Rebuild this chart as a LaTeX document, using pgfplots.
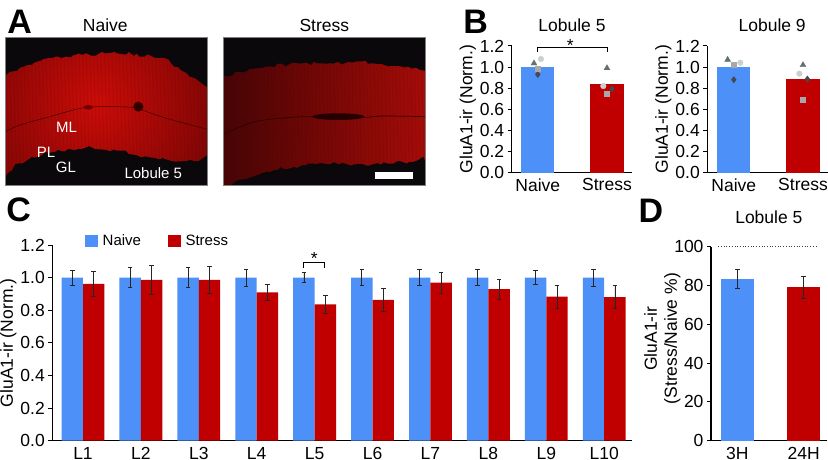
\documentclass[border=0pt]{standalone}
\usepackage{fontspec}
\setmainfont{Liberation Sans}
\usepackage{pgfplots}
\usepackage{pgfplotstable}
\pgfplotsset{compat=1.18}
\usetikzlibrary{decorations.pathmorphing}

\definecolor{nblue}{RGB}{77,144,248}
\definecolor{sred}{RGB}{192,0,0}
\definecolor{ptri}{RGB}{100,112,112}
\definecolor{pcirc}{RGB}{200,208,208}
\definecolor{psq}{RGB}{168,168,168}
\definecolor{pdia}{RGB}{68,72,80}
\definecolor{nearblack}{RGB}{10,8,10}
\definecolor{edgered}{RGB}{80,5,5}

\newcommand{\lab}{\fontsize{17.5}{20}\selectfont}
\newcommand{\smalllab}{\fontsize{15}{18}\selectfont}
\newcommand{\panel}{\fontsize{34}{36}\selectfont\bfseries}

% lobule, bar positions, naive, naive err, stress, stress err
\pgfplotstableread{
xn xs n ne s se
0.815 1.185 1.0 0.047 0.961 0.077
1.815 2.185 1.0 0.060 0.986 0.087
2.815 3.185 1.0 0.060 0.986 0.085
3.815 4.185 1.0 0.053 0.910 0.051
4.815 5.185 1.0 0.032 0.836 0.056
5.815 6.185 1.0 0.050 0.863 0.068
6.815 7.185 1.0 0.048 0.969 0.065
7.815 8.185 1.0 0.048 0.930 0.062
8.815 9.185 1.0 0.044 0.883 0.070
9.815 10.185 1.0 0.053 0.881 0.072
}\lobules

\pgfplotsset{
  panelaxis/.style={
    scale only axis,
    anchor=south west,
    axis lines=left,
    axis line style={-,line width=1.1pt,black},
    clip=false,
    xtick style={draw=none},
    ytick style={black,line width=0.9pt},
    tick align=outside,
    major tick length=4pt,
    tick label style={font=\lab},
    label style={font=\lab},
    title style={font=\lab},
    ymin=0,
    /pgf/number format/assume math mode=true,
  },
  normticks/.style={
    ymax=1.2,
    ytick={0,0.2,0.4,0.6,0.8,1.0,1.2},
    yticklabel style={/pgf/number format/.cd,fixed,fixed zerofill,precision=1},
  },
  nbar/.style={ybar,bar width=#1,bar shift=0pt,fill=nblue,draw=none},
  sbar/.style={ybar,bar width=#1,bar shift=0pt,fill=sred,draw=none},
  errs/.style={
    error bars/.cd,y dir=both,y explicit,
    error bar style={line width=0.8pt,black!85},
    error mark options={rotate=90,mark size=2.3pt,line width=0.8pt,black!85},
  },
  ptt/.style={only marks,mark=triangle*,mark size=3.4pt,color=ptri},
  ptc/.style={only marks,mark=*,mark size=2.8pt,color=pcirc},
  pts/.style={only marks,mark=square*,mark size=2.5pt,color=psq},
  ptd/.style={only marks,mark=diamond*,mark size=3.2pt,color=pdia},
  legsq/.style={legend image code/.code={\fill[##1] (0pt,-5.5pt) rectangle (12.5pt,6.5pt);}},
}

\begin{document}
\begin{tikzpicture}
\useasboundingbox (0pt,0pt) rectangle (828pt,459pt);
\pgfmathsetseed{7}

% panel A: micrographs, coordinates taken on a 3x grid from the top left
\begin{scope}[x=0.33333pt,y=-0.33333pt,yshift=459pt]
  \begin{scope}
    \clip (16,112) rectangle (622,557);
    \fill[nearblack] (16,112) rectangle (622,557);
    \begin{scope}
      \path[clip,decorate,decoration={random steps,segment length=4pt,amplitude=1.8pt}]
        plot[smooth] coordinates {(-30,250) (16,228) (100,190) (200,170) (350,160) (480,175) (560,220) (622,262) (660,300)}
        -- (660,470)
        -- plot[smooth] coordinates {(622,472) (560,482) (450,472) (350,452) (260,442) (150,458) (60,490) (16,530) (-30,560)}
        -- cycle;
      \shade[inner color={rgb,255:red,205;green,12;blue,8},outer color={rgb,255:red,120;green,6;blue,5}] (290,310) circle (400);
      \foreach \x in {16,27,...,622} \draw[edgered,opacity=0.12,line width=1.2pt] (\x,140) -- (\x+12,520);
    \end{scope}
    \draw[black!75!red,line width=0.5pt] plot[smooth] coordinates {(16,395) (60,375) (150,350) (260,322) (400,322) (440,335) (500,355) (622,388)};
    \fill[black!80!red] (415,320) circle (15);
    \fill[black!55!red] (265,322) ellipse (14 and 7);
  \end{scope}
  \draw[gray,line width=0.4pt] (16,112) rectangle (622,557);
  \begin{scope}
    \clip (670,112) rectangle (1275,557);
    \fill[nearblack] (670,112) rectangle (1275,557);
    \begin{scope}
      \path[clip,decorate,decoration={random steps,segment length=4pt,amplitude=1.8pt}]
        plot[smooth] coordinates {(630,240) (670,228) (800,200) (950,190) (1120,190) (1275,212) (1310,218)}
        -- (1310,480)
        -- plot[smooth] coordinates {(1275,482) (1120,492) (950,492) (800,515) (700,550) (630,570)}
        -- cycle;
      \shade[left color={rgb,255:red,70;green,4;blue,5},middle color={rgb,255:red,150;green,10;blue,8},right color={rgb,255:red,165;green,12;blue,8}] (670,112) rectangle (1275,557);
      \foreach \x in {670,681,...,1275} \draw[edgered,opacity=0.12,line width=1.2pt] (\x,140) -- (\x+8,520);
    \end{scope}
    \draw[black!80!red,line width=0.7pt] plot[smooth] coordinates {(672,402) (760,366) (860,353) (940,350) (1090,352) (1150,348) (1275,350)};
    \fill[black!85!red] (1015,350) ellipse (78 and 10);
  \end{scope}
  \draw[gray,line width=0.4pt] (670,112) rectangle (1275,557);
  \fill[white] (1125,517) rectangle (1238,537);
  \node[white,font=\smalllab] at (200,383) {ML};
  \node[white,font=\smalllab] at (138,458) {PL};
  \node[white,font=\smalllab] at (198,502) {GL};
  \node[white,font=\smalllab] at (460,520) {Lobule 5};
  \node[font=\lab] at (316,75) {Naive};
  \node[font=\lab] at (973,75) {Stress};
\end{scope}

\node[font=\panel] at (19.7pt,437.5pt) {A};
\node[font=\panel] at (475.7pt,437.5pt) {B};
\node[font=\panel] at (18.7pt,249pt) {C};
\node[font=\panel] at (651pt,248pt) {D};

% panel B, lobule 5
\begin{axis}[panelaxis,normticks,
  at={(511.7pt,286.3pt)},width=120.6pt,height=126.8pt,
  xmin=0.623,xmax=2.366,
  xtick={1,2},xticklabels={Naive,Stress},
  xticklabel style={yshift=1.5pt},
  ylabel={GluA1-ir (Norm.)},ylabel style={yshift=-3pt},
  title={Lobule 5},title style={yshift=5pt},
]
\addplot[nbar=33.2pt] coordinates {(1,1.0)};
\addplot[sbar=33.2pt] coordinates {(2,0.836)};
\addplot[ptt] coordinates {(0.945,1.035) (2,0.99)};
\addplot[ptc] coordinates {(1.046,1.076) (1.947,0.82)};
\addplot[ptd] coordinates {(1,0.93) (2.072,0.792)};
\addplot[pts] coordinates {(1,0.981) (2,0.75)};
\addplot[black,line width=0.9pt,sharp plot] coordinates {(1,1.139) (1,1.183) (2,1.183) (2,1.139)};
\node[font=\lab] at (axis cs:1.47,1.205) {*};
\end{axis}

% panel B, lobule 9
\begin{axis}[panelaxis,normticks,
  at={(707.3pt,286.3pt)},width=120.7pt,height=126.8pt,
  xmin=0.617,xmax=2.361,
  xtick={1,2},xticklabels={Naive,Stress},
  xticklabel style={yshift=1.5pt},
  ylabel={GluA1-ir (Norm.)},ylabel style={yshift=-3pt},
  title={Lobule 9},title style={yshift=5pt,xshift=4.5pt},
]
\addplot[nbar=33.2pt] coordinates {(1,1.0)};
\addplot[sbar=33.2pt] coordinates {(2,0.883)};
\addplot[ptt] coordinates {(0.911,1.069) (2,1.019)};
\addplot[ptc] coordinates {(1.094,1.041) (1.947,0.937)};
\addplot[ptd] coordinates {(1,0.88) (2.063,0.886)};
\addplot[pts] coordinates {(1,1.022) (2,0.694)};
\end{axis}

% panel C
\begin{axis}[panelaxis,normticks,
  at={(52.3pt,18.3pt)},width=579.7pt,height=195.7pt,
  xmin=0.47,xmax=10.48,
  xtick={1,2,3,4,5,6,7,8,9,10},
  xticklabels={L1,L2,L3,L4,L5,L6,L7,L8,L9,L10},
  xticklabel style={yshift=1pt},
  ylabel={GluA1-ir (Norm.)},ylabel style={yshift=-3pt},
  legend columns=2,
  legend style={at={(axis cs:1.035,1.275)},anchor=north west,draw=none,fill=none,
    font=\smalllab,inner sep=0pt,
    /tikz/every odd column/.append style={column sep=3pt},
    /tikz/every even column/.append style={column sep=25pt}},
]
\addplot[ybar,bar width=21.4pt,bar shift=0pt,fill=nblue,draw=none,legsq,errs]
  table[x=xn,y=n,y error=ne] {\lobules};
\addlegendentry{Naive}
\addplot[ybar,bar width=21.4pt,bar shift=0pt,fill=sred,draw=none,legsq,errs]
  table[x=xs,y=s,y error=se] {\lobules};
\addlegendentry{Stress}
\addplot[black,line width=1.3pt,sharp plot,forget plot] coordinates {(4.805,1.057) (4.805,1.094) (5.168,1.094) (5.168,1.057)};
\node[font=\lab] at (axis cs:4.995,1.115) {*};
\end{axis}

% panel D
\begin{axis}[panelaxis,
  at={(711pt,18.3pt)},width=115.7pt,height=194pt,
  xmin=0.604,xmax=2.346,ymax=100,
  xtick={1,2},xticklabels={3H,24H},
  xticklabel style={yshift=1pt},
  ytick={0,20,40,60,80,100},
  ylabel={GluA1-ir\\(Stress/Naive \%)},
  ylabel style={align=center,yshift=-13pt,xshift=5pt,font=\lab},
  title={Lobule 5},title style={yshift=13pt},
]
\addplot[nbar=33.3pt,errs] coordinates {(1,83.5) +- (0,5)};
\addplot[sbar=33.3pt,errs] coordinates {(2,79) +- (0,5.5)};
\addplot[black!75,line width=0.7pt,dotted,sharp plot] coordinates {(0.714,100) (2.205,100)};
\end{axis}
\end{tikzpicture}
\end{document}
